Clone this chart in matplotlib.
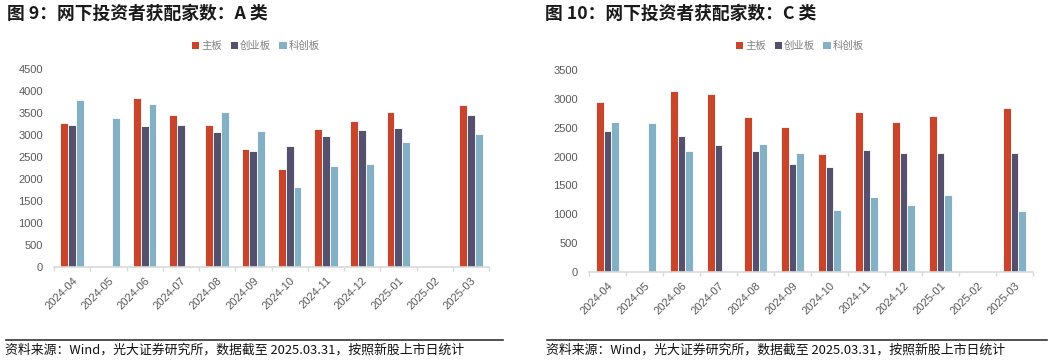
import matplotlib
matplotlib.use("Agg")
import matplotlib.pyplot as plt
import numpy as np
from matplotlib.lines import Line2D
from matplotlib.patches import Patch

plt.rcParams['font.family'] = ['Liberation Sans', 'Noto Sans CJK SC', 'DejaVu Sans']

categories = ["2024-04", "2024-05", "2024-06", "2024-07", "2024-08", "2024-09",
              "2024-10", "2024-11", "2024-12", "2025-01", "2025-02", "2025-03"]
series_names = ["主板", "创业板", "科创板"]

# Figure 9: class A
a_main = [3263, 0, 3832, 3452, 3218, 2678, 2216, 3133, 3323, 3513, 0, 3673]
a_chinext = [3232, 0, 3202, 3218, 3058, 2626, 2740, 2981, 3104, 3164, 0, 3452]
a_star = [3787, 3391, 3703, 0, 3527, 3081, 1807, 2285, 2344, 2831, 0, 3027]

# Figure 10: class C
c_main = [2951, 0, 3130, 3084, 2680, 2518, 2039, 2772, 2593, 2703, 0, 2847]
c_chinext = [2443, 0, 2350, 2195, 2097, 1877, 1814, 2114, 2067, 2067, 0, 2056]
c_star = [2599, 2576, 2102, 0, 2212, 2056, 1080, 1300, 1155, 1334, 0, 1051]

title_a = "图 9：网下投资者获配家数：A 类"
title_c = "图 10：网下投资者获配家数：C 类"
source = "资料来源：Wind，光大证券研究所，数据截至 2025.03.31，按照新股上市日统计"

colors = ["#C8442A", "#56506F", "#84B0C6"]
W, H = 1055, 361
fig = plt.figure(figsize=(W / 100, H / 100), dpi=100)

def px_axes(l, t, r, b):
    return fig.add_axes([l / W, 1 - b / H, (r - l) / W, (b - t) / H])

def draw(ax, data, ymax, step):
    x = np.arange(len(categories))
    bw = 0.215
    for i, (vals, c) in enumerate(zip(data, colors)):
        ax.bar(x + (i - 1) * bw, vals, width=bw, color=c, edgecolor='white', linewidth=0.6)
    ax.set_xlim(-0.5, len(categories) - 0.5)
    ax.set_ylim(0, ymax)
    ax.set_yticks(np.arange(0, ymax + 1, step))
    ax.tick_params(axis='y', length=0, labelsize=8, labelcolor='#595959', pad=8)
    ax.set_xticks(x)
    ax.set_xticklabels(categories, rotation=45, ha='right', rotation_mode='anchor',
                       fontsize=8, color='#595959')
    ax.tick_params(axis='x', length=0, pad=6)
    ax.set_xticks(np.arange(-0.5, len(categories) + 0.5, 1), minor=True)
    ax.tick_params(axis='x', which='minor', length=3, color='#d9d9d9', width=1)
    for s in ['top', 'right', 'left']:
        ax.spines[s].set_visible(False)
    ax.spines['bottom'].set_color('#d9d9d9')
    ax.spines['bottom'].set_linewidth(1.2)

ax1 = px_axes(54, 69, 489, 267)
draw(ax1, [a_main, a_chinext, a_star], 4500, 500)
ax2 = px_axes(589, 70, 1033, 272)
draw(ax2, [c_main, c_chinext, c_star], 3500, 500)

cjk = ['Noto Sans CJK SC', 'DejaVu Sans']
fig.text(7 / W, 1 - 14 / H, title_a, fontsize=12.8, fontweight='bold', family=cjk,
         va='center', ha='left', color='#1a1a1a')
fig.text(545 / W, 1 - 14 / H, title_c, fontsize=12.8, fontweight='bold', family=cjk,
         va='center', ha='left', color='#1a1a1a')

for cx in [256, 800]:
    handles = [Patch(facecolor=c, edgecolor='none') for c in colors]
    fig.legend(handles, series_names, loc='center', bbox_to_anchor=(cx / W, 1 - 46 / H),
               ncol=3, frameon=False, handlelength=0.7, handleheight=0.7,
               handletextpad=0.2, columnspacing=0.8, prop={'family': cjk, 'size': 7.5},
               labelcolor='#7f7f7f')

for x0, x1 in [(6, 503), (547, 1047)]:
    fig.add_artist(Line2D([x0 / W, x1 / W], [1 - 340 / H] * 2, color='#333333', lw=1.2))
fig.text(5 / W, 1 - 350 / H, source, fontsize=9.3, family=cjk, va='center', ha='left',
         color='#111111')
fig.text(546 / W, 1 - 350 / H, source, fontsize=9.3, family=cjk, va='center', ha='left',
         color='#111111')

fig.savefig("out.png", dpi=100)
